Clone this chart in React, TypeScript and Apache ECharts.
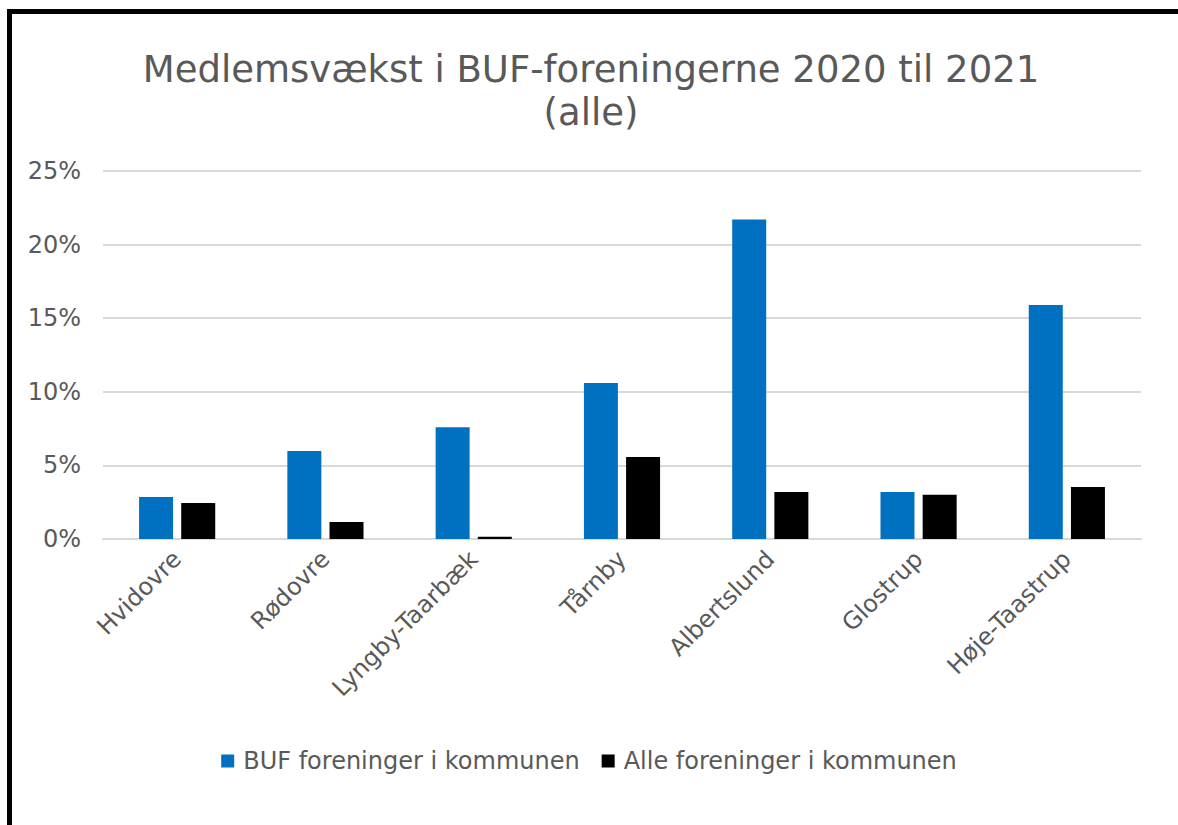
import React, { useEffect, useRef } from "react";
import * as echarts from "echarts";

const categories = ["Hvidovre", "Rødovre", "Lyngby-Taarbæk", "Tårnby", "Albertslund", "Glostrup", "Høje-Taastrup"];
const bufValues = [2.85, 5.98, 7.6, 10.6, 21.7, 3.2, 15.9];
const alleValues = [2.45, 1.15, 0.15, 5.57, 3.2, 3.0, 3.53];
const seriesNames = ["BUF foreninger i kommunen", "Alle foreninger i kommunen"];
const titleText = "Medlemsvækst i BUF-foreningerne 2020 til 2021\n(alle)";

export default function App() {
  const ref = useRef<HTMLDivElement>(null);
  useEffect(() => {
    if (!ref.current) return;
    const chart = echarts.init(ref.current, null, { renderer: "svg" });
    const font = "'DejaVu Sans', Verdana, sans-serif";
    chart.setOption({
      animation: false,
      backgroundColor: "#ffffff",
      title: {
        text: titleText,
        left: 591,
        top: 48,
        padding: 0,
        textAlign: "center",
        textStyle: {
          fontFamily: font,
          fontSize: 37,
          fontWeight: "normal",
          color: "#595959",
          lineHeight: 43,
        },
      },
      legend: {
        data: seriesNames,
        left: "center",
        top: 744,
        itemWidth: 13,
        itemHeight: 13,
        itemGap: 22,
        icon: "rect",
        textStyle: {
          fontFamily: font,
          fontSize: 24,
          color: "#595959",
          padding: [0, 0, 0, 4],
        },
      },
      grid: { left: 103, right: 37, top: 171, bottom: 286, containLabel: false },
      xAxis: {
        type: "category",
        data: categories,
        axisLine: { lineStyle: { color: "#d9d9d9", width: 2 } },
        axisTick: { show: false },
        axisLabel: {
          rotate: 45,
          interval: 0,
          margin: 16,
          fontFamily: font,
          fontSize: 24,
          color: "#595959",
        },
      },
      yAxis: {
        type: "value",
        min: 0,
        max: 25,
        interval: 5,
        axisLine: { show: false },
        axisTick: { show: false },
        splitLine: { lineStyle: { color: "#d9d9d9", width: 2 } },
        axisLabel: {
          formatter: "{value}%",
          margin: 22,
          fontFamily: font,
          fontSize: 24,
          color: "#595959",
        },
      },
      series: [
        {
          name: seriesNames[0],
          type: "bar",
          data: bufValues,
          barWidth: 34,
          barGap: "24%",
          itemStyle: { color: "#0070c0" },
        },
        {
          name: seriesNames[1],
          type: "bar",
          data: alleValues,
          barWidth: 34,
          barGap: "24%",
          itemStyle: { color: "#000000" },
        },
      ],
      graphic: [
        {
          type: "rect",
          shape: { x: 9.5, y: 11.5, width: 1200, height: 850 },
          style: { fill: "none", stroke: "#000000", lineWidth: 5 },
          silent: true,
        },
      ],
    });
    return () => chart.dispose();
  }, []);
  return (
    <div
      ref={ref}
      style={{ position: "absolute", left: 0, top: 0, width: 1178, height: 825 }}
    />
  );
}
